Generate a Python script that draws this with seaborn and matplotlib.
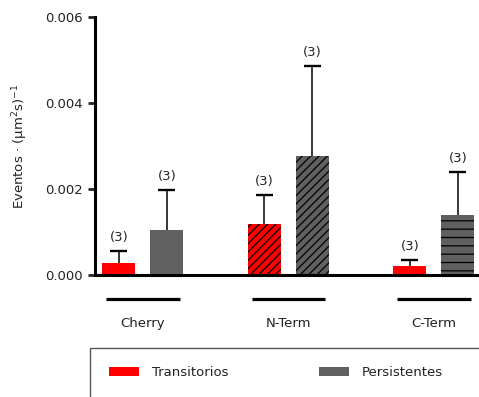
import matplotlib
matplotlib.use("Agg")
import matplotlib.pyplot as plt
import matplotlib.patches as mpatches
import seaborn as sns
import pandas as pd
import numpy as np

categories = ["Cherry", "N-Term", "C-Term"]
series = ["Transitorios", "Persistentes"]
transitorios = [0.00028, 0.00119, 0.00021]
persistentes = [0.00105, 0.00277, 0.00140]
err_trans = [0.00028, 0.00067, 0.00014]
err_pers = [0.00093, 0.00209, 0.00100]
n_labels = ["(3)", "(3)", "(3)"]
yticks = [0.0, 0.002, 0.004, 0.006]
ytick_labels = ["0.000", "0.002", "0.004", "0.006"]
colors = {"Transitorios": "#FF0000", "Persistentes": "#606060"}
hatches = {("Transitorios", "Cherry"): "", ("Persistentes", "Cherry"): "",
           ("Transitorios", "N-Term"): "////", ("Persistentes", "N-Term"): "////",
           ("Transitorios", "C-Term"): "", ("Persistentes", "C-Term"): "--"}

df = pd.DataFrame({
    "Grupo": categories * 2,
    "Tipo": [series[0]] * 3 + [series[1]] * 3,
    "Valor": transitorios + persistentes,
})

sns.set_style("white")
plt.rcParams["font.family"] = ["DejaVu Sans"]
plt.rcParams["hatch.linewidth"] = 0.9

fig = plt.figure(figsize=(4.79, 3.97), dpi=100)
ax = fig.add_axes([95 / 479, 122 / 397, 384 / 479, 258 / 397])

sns.barplot(data=df, x="Grupo", y="Valor", hue="Tipo", order=categories,
            hue_order=series, palette=colors, width=0.66, gap=0.315,
            saturation=1, errorbar=None, legend=False, ax=ax)

vals = {series[0]: transitorios, series[1]: persistentes}
errs = {series[0]: err_trans, series[1]: err_pers}
cap_half = 0.058
for si, s in enumerate(series):
    for ci, c in enumerate(categories):
        p = ax.patches[si * len(categories) + ci]
        p.set_edgecolor("black")
        p.set_linewidth(0)
        p.set_hatch(hatches[(s, c)])
        xc = p.get_x() + p.get_width() / 2
        v = vals[s][ci]
        e = errs[s][ci]
        ax.vlines(xc, v, v + e, color="black", lw=1.1, zorder=3)
        ax.hlines(v + e, xc - cap_half, xc + cap_half, color="black",
                  lw=1.7, zorder=3)
        ax.annotate(n_labels[ci], (xc, v + e), xytext=(0, 5),
                    textcoords="offset points", ha="center", va="bottom",
                    fontsize=9.5, color="#222222")

ax.set_xlim(-0.329, 2.31)
ax.set_ylim(0, 0.006)
ax.set_yticks(yticks)
ax.set_yticklabels(ytick_labels)
ax.set_xticks(range(len(categories)))
ax.set_xticklabels(categories)
ax.set_xlabel("")
ax.set_ylabel("Eventos · (μm$^2$s)$^{-1}$", fontsize=9.5, color="#222222")
ax.yaxis.set_label_coords(-0.17, 0.5)

for side in ["top", "right"]:
    ax.spines[side].set_visible(False)
for side in ["left", "bottom"]:
    ax.spines[side].set_linewidth(2.2)
    ax.spines[side].set_color("black")
ax.tick_params(axis="y", length=5, width=2, direction="out", pad=4,
               labelsize=9.5, labelcolor="#222222", left=True)
ax.tick_params(axis="x", length=0, pad=30, labelsize=9.5, labelcolor="#222222")

trans = ax.get_xaxis_transform()
for ci in range(len(categories)):
    ax.plot([ci - 0.253, ci + 0.253], [-0.093, -0.093], color="black",
            lw=2.3, transform=trans, clip_on=False, solid_capstyle="butt")

fig.patches.append(mpatches.Rectangle((90 / 479, -0.2), 1.0, 0.2 + 49 / 397,
                                      transform=fig.transFigure,
                                      facecolor="none", edgecolor="#555555",
                                      lw=1.0))
handles = [mpatches.Patch(facecolor=colors[s], edgecolor="none", label=s)
           for s in series]
fig.legend(handles=handles, loc="center left",
           bbox_to_anchor=(109 / 479, 24.5 / 397), ncol=2, frameon=False,
           borderpad=0, borderaxespad=0, handlelength=2.24,
           handleheight=0.72, handletextpad=1.0, columnspacing=6.9,
           fontsize=9.5, labelcolor="#222222")

fig.savefig("out.png", dpi=100)
